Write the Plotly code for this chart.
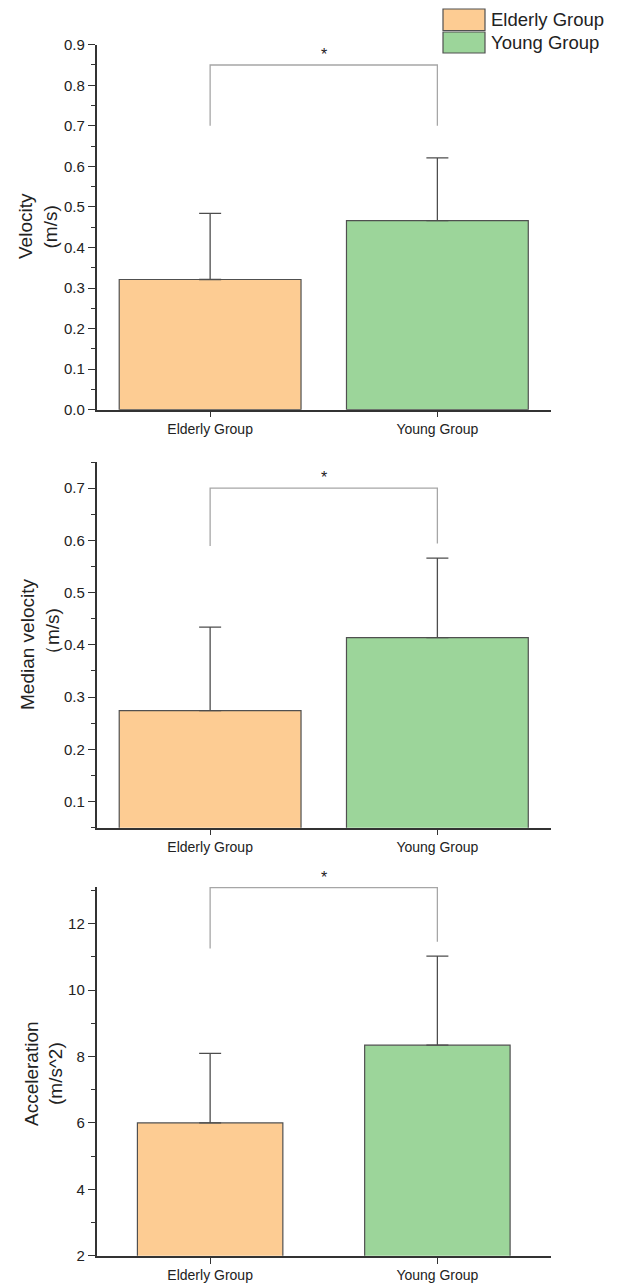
import plotly.graph_objects as go

# ---------------- data ----------------
groups = ["Elderly Group", "Young Group"]
colors = ["#FDCC93", "#9CD59A"]

vel_mean = [0.321, 0.466]
vel_sd = [0.163, 0.155]
med_mean = [0.274, 0.414]
med_sd = [0.160, 0.152]
acc_mean = [6.00, 8.34]
acc_sd = [2.09, 2.68]

# significance brackets: [left leg bottom, top, right leg bottom]
vel_bracket = [0.70, 0.85, 0.70]
med_bracket = [0.589, 0.70, 0.594]
acc_bracket = [11.25, 13.08, 11.45]
star_y = [0.885, 0.728, 13.52]
star_text = "*"

y_title_1 = ["Velocity", "(m/s)"]
y_title_2 = ["Median velocity", "（m/s)"]
y_title_3 = ["Acceleration", "(m/s^2)"]

y_ranges = [[0, 0.9], [0.05, 0.75], [2, 13.1]]
y_dticks = [0.1, 0.1, 2]
y_minor = [0.05, 0.05, 1]
y_formats = [".1f", ".1f", "d"]

# ---------------- style / layout ----------------
W, H = 618, 1284
FONT = "Arial, 'Liberation Sans', sans-serif"
AX = "#333333"
x_dom = [96.5 / W, 551 / W]
y_doms = [
    [1 - 409.7 / H, 1 - 44.7 / H],
    [1 - 827.7 / H, 1 - 462 / H],
    [1 - 1255.8 / H, 1 - 887 / H],
]
bar_widths = [0.8, 0.8, 0.64]

means = [vel_mean, med_mean, acc_mean]
sds = [vel_sd, med_sd, acc_sd]
brackets = [vel_bracket, med_bracket, acc_bracket]
titles = [y_title_1, y_title_2, y_title_3]
# title line x-centers (px) and y-centers (px)
title_x = [(25.5, 50.5), (27, 53), (31.5, 55.5)]
title_y = [(226.5, 227), (645, 636), (1073.5, 1073.5)]

fig = go.Figure()
layout = dict(
    template="none",
    width=W, height=H, autosize=False,
    margin=dict(l=0, r=0, t=0, b=0, pad=0, autoexpand=False),
    paper_bgcolor="white", plot_bgcolor="white",
    showlegend=False,
    font=dict(family=FONT, color="#222222", size=14),
)
annotations = []
shapes = []

for i in range(3):
    n = "" if i == 0 else str(i + 1)
    xa, ya = "x" + n, "y" + n
    fig.add_trace(go.Bar(
        x=groups, y=means[i], width=bar_widths[i],
        marker=dict(color=colors, line=dict(color="#505050", width=1.2)),
        error_y=dict(type="data", array=sds[i], arrayminus=[0, 0], symmetric=False,
                     color="#4d4d4d", thickness=1.3, width=11),
        xaxis=xa, yaxis=ya, hoverinfo="skip",
    ))
    b = brackets[i]
    fig.add_trace(go.Scatter(
        x=[groups[0], groups[0], groups[1], groups[1]],
        y=[b[0], b[1], b[1], b[2]],
        mode="lines", line=dict(color="#a6a6a6", width=1.3),
        cliponaxis=False, xaxis=xa, yaxis=ya, hoverinfo="skip",
    ))
    layout["xaxis" + n] = dict(
        domain=x_dom, anchor=ya, type="category", range=[-0.5, 1.5],
        automargin=False,
        showline=True, linecolor=AX, linewidth=1.5,
        ticks="outside", ticklen=6, tickwidth=1.3, tickcolor=AX,
        showgrid=False, zeroline=False,
        tickfont=dict(size=14, color="#222222"),
    )
    layout["yaxis" + n] = dict(
        domain=y_doms[i], anchor=xa, range=y_ranges[i],
        automargin=False,
        dtick=y_dticks[i], tick0=0, tickformat=y_formats[i],
        showline=True, linecolor=AX, linewidth=1.5,
        ticks="outside", ticklen=7, tickwidth=1.3, tickcolor=AX,
        minor=dict(dtick=y_minor[i], ticks="outside", ticklen=4, tickwidth=1.2, tickcolor=AX),
        showgrid=False, zeroline=False,
        tickfont=dict(size=15, color="#222222"),
    )
    # significance star: anchor inside the visible range, offset in px to its value
    top = y_ranges[i][1]
    anchor_y = min(star_y[i], top)
    px_per_unit = (y_doms[i][1] - y_doms[i][0]) * H / (y_ranges[i][1] - y_ranges[i][0])
    annotations.append(dict(
        x=0.5, y=anchor_y, xref=xa, yref=ya, text=star_text, showarrow=False,
        xanchor="center", yanchor="middle",
        yshift=(star_y[i] - anchor_y) * px_per_unit - 4,
        font=dict(size=16, color="#222222"),
    ))
    # y titles (two lines)
    for j in range(2):
        annotations.append(dict(
            x=title_x[i][j] / W, y=1 - title_y[i][j] / H, xref="paper", yref="paper",
            text=titles[i][j], textangle=-90, showarrow=False,
            xanchor="center", yanchor="middle",
            font=dict(size=19, color="#222222"),
        ))

# custom legend
leg_rows = [(9, 30.5), (32, 53)]
for k in range(2):
    y0, y1 = leg_rows[k]
    shapes.append(dict(
        type="rect", xref="paper", yref="paper",
        x0=443 / W, x1=485 / W, y0=1 - y1 / H, y1=1 - y0 / H,
        fillcolor=colors[k], line=dict(color="#505050", width=1.2),
    ))
    annotations.append(dict(
        x=489 / W, y=1 - (y0 + y1) / 2 / H, xref="paper", yref="paper",
        text=groups[k], showarrow=False, xanchor="left", yanchor="middle",
        font=dict(size=18.5, color="#222222"),
    ))

layout["annotations"] = annotations
layout["shapes"] = shapes
fig.update_layout(**layout)
fig.write_html(
    "out.html",
    config={"displayModeBar": False},
    post_script="document.body.style.margin='0';document.body.style.overflow='hidden';",
)
